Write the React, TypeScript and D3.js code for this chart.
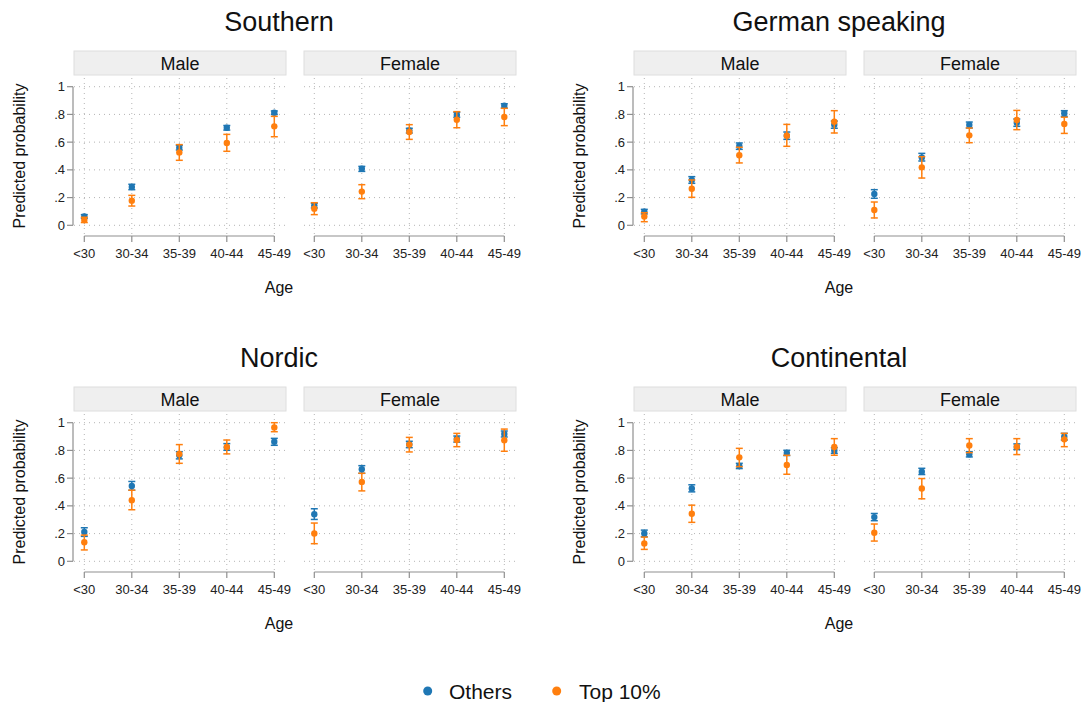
import React from "react";
import * as d3 from "d3";

// categories
const ages = ["<30", "30-34", "35-39", "40-44", "45-49"];
const sexes = ["Male", "Female"];
const regions = ["Southern", "German speaking", "Nordic", "Continental"];
const yTicks = [0, 0.2, 0.4, 0.6, 0.8, 1];
const yTickLabels = ["0", ".2", ".4", ".6", ".8", "1"];
const seriesNames = ["Others", "Top 10%"];

// [estimate, lower, upper] per age group
const southernMaleOthers = [[0.063, 0.05, 0.077], [0.276, 0.257, 0.296], [0.56, 0.543, 0.577], [0.704, 0.687, 0.72], [0.812, 0.8, 0.825]];
const southernMaleTop = [[0.038, 0.02, 0.058], [0.178, 0.139, 0.216], [0.526, 0.469, 0.582], [0.594, 0.534, 0.656], [0.714, 0.639, 0.786]];
const southernFemaleOthers = [[0.142, 0.125, 0.159], [0.409, 0.389, 0.425], [0.685, 0.666, 0.7], [0.796, 0.779, 0.815], [0.863, 0.846, 0.877]];
const southernFemaleTop = [[0.12, 0.077, 0.163], [0.243, 0.192, 0.293], [0.673, 0.62, 0.726], [0.762, 0.704, 0.82], [0.781, 0.719, 0.844]];

const germanMaleOthers = [[0.099, 0.082, 0.115], [0.327, 0.303, 0.351], [0.572, 0.548, 0.594], [0.647, 0.62, 0.673], [0.726, 0.7, 0.752]];
const germanMaleTop = [[0.063, 0.026, 0.091], [0.264, 0.202, 0.327], [0.505, 0.45, 0.563], [0.647, 0.57, 0.728], [0.748, 0.666, 0.827]];
const germanFemaleOthers = [[0.226, 0.195, 0.257], [0.49, 0.464, 0.519], [0.724, 0.702, 0.745], [0.74, 0.714, 0.767], [0.808, 0.786, 0.827]];
const germanFemaleTop = [[0.11, 0.053, 0.168], [0.418, 0.341, 0.495], [0.649, 0.596, 0.702], [0.76, 0.69, 0.829], [0.731, 0.663, 0.78]];

const nordicMaleOthers = [[0.211, 0.18, 0.242], [0.544, 0.513, 0.576], [0.765, 0.739, 0.791], [0.822, 0.801, 0.849], [0.863, 0.837, 0.887]];
const nordicMaleTop = [[0.137, 0.082, 0.189], [0.441, 0.372, 0.513], [0.775, 0.707, 0.842], [0.825, 0.775, 0.875], [0.966, 0.935, 1.0]];
const nordicFemaleOthers = [[0.34, 0.302, 0.379], [0.664, 0.635, 0.69], [0.844, 0.82, 0.866], [0.882, 0.86, 0.904], [0.918, 0.897, 0.94]];
const nordicFemaleTop = [[0.201, 0.127, 0.276], [0.573, 0.508, 0.635], [0.842, 0.789, 0.894], [0.875, 0.827, 0.923], [0.873, 0.794, 0.954]];

const continentalMaleOthers = [[0.201, 0.177, 0.225], [0.525, 0.501, 0.552], [0.688, 0.669, 0.707], [0.782, 0.763, 0.801], [0.799, 0.779, 0.82]];
const continentalMaleTop = [[0.129, 0.086, 0.175], [0.343, 0.281, 0.405], [0.75, 0.683, 0.815], [0.695, 0.628, 0.765], [0.825, 0.765, 0.885]];
const continentalFemaleOthers = [[0.319, 0.293, 0.345], [0.647, 0.626, 0.671], [0.772, 0.753, 0.791], [0.825, 0.806, 0.847], [0.899, 0.875, 0.923]];
const continentalFemaleTop = [[0.206, 0.146, 0.269], [0.525, 0.451, 0.597], [0.835, 0.784, 0.885], [0.827, 0.77, 0.885], [0.88, 0.827, 0.923]];

const panelData = [
  [[southernMaleOthers, southernMaleTop], [southernFemaleOthers, southernFemaleTop]],
  [[germanMaleOthers, germanMaleTop], [germanFemaleOthers, germanFemaleTop]],
  [[nordicMaleOthers, nordicMaleTop], [nordicFemaleOthers, nordicFemaleTop]],
  [[continentalMaleOthers, continentalMaleTop], [continentalFemaleOthers, continentalFemaleTop]],
];

const colors = ["#1f77b4", "#ff7f0e"];
const FONT = "'Liberation Sans', Arial, sans-serif";
const axisColor = "#8f8f8f";
const gridColor = "#b5b5b5";

const panelLefts = [74, 304];
const panelW = 212;

function Panel({ ox, oy, si, data }: any) {
  const left = ox + panelLefts[si];
  const x = d3.scalePoint().domain(ages).range([left + 10.3, left + 200.3]);
  const y = d3.scaleLinear().domain([0, 1]).range([oy + 225.3, oy + 86.7]);
  const axisY = oy + 236;
  return (
    <g>
      <rect x={left} y={oy + 51} width={panelW} height={24} fill="#efefef" stroke="#dedede" strokeWidth={1} />
      <text x={left + panelW / 2} y={oy + 69.5} textAnchor="middle" fontSize={18} fill="#111">
        {sexes[si]}
      </text>
      {yTicks.map((t) => (
        <line key={"h" + t} x1={left} x2={left + panelW} y1={y(t)} y2={y(t)} stroke={gridColor} strokeWidth={1} strokeDasharray="1,4" />
      ))}
      {ages.map((a) => (
        <line key={"v" + a} x1={x(a)} x2={x(a)} y1={oy + 78} y2={oy + 234} stroke={gridColor} strokeWidth={1} strokeDasharray="1,4" />
      ))}
      {si === 0 && (
        <g>
          <line x1={left - 1} x2={left - 1} y1={y(0)} y2={y(1)} stroke={axisColor} strokeWidth={1.2} />
          {yTicks.map((t, i) => (
            <g key={"yt" + t}>
              <line x1={left - 7} x2={left - 1} y1={y(t)} y2={y(t)} stroke={axisColor} strokeWidth={1.2} />
              <text x={left - 9} y={y(t)} dy="0.35em" textAnchor="end" fontSize={13} fill="#222">
                {yTickLabels[i]}
              </text>
            </g>
          ))}
        </g>
      )}
      <line x1={x(ages[0])} x2={x(ages[ages.length - 1])} y1={axisY} y2={axisY} stroke={axisColor} strokeWidth={1.2} />
      {ages.map((a) => (
        <g key={"xt" + a}>
          <line x1={x(a)} x2={x(a)} y1={axisY} y2={axisY + 6} stroke={axisColor} strokeWidth={1.2} />
          <text x={x(a)} y={axisY + 21.5} textAnchor="middle" fontSize={13} fill="#222">
            {a}
          </text>
        </g>
      ))}
      {data.map((series: number[][], k: number) => (
        <g key={"s" + k}>
          {series.map((d, i) => {
            const cx = x(ages[i]) as number;
            return (
              <g key={i}>
                <line x1={cx} x2={cx} y1={y(d[1])} y2={y(d[2])} stroke={colors[k]} strokeWidth={1.5} />
                <line x1={cx - 3.5} x2={cx + 3.5} y1={y(d[1])} y2={y(d[1])} stroke={colors[k]} strokeWidth={1.5} />
                <line x1={cx - 3.5} x2={cx + 3.5} y1={y(d[2])} y2={y(d[2])} stroke={colors[k]} strokeWidth={1.5} />
                <circle cx={cx} cy={y(d[0])} r={3.2} fill={colors[k]} />
              </g>
            );
          })}
        </g>
      ))}
    </g>
  );
}

export default function App() {
  return (
    <svg width={1084} height={702} style={{ position: "absolute", left: 0, top: 0, background: "#fff" }} fontFamily={FONT}>
      <rect x={0} y={0} width={1084} height={702} fill="#fff" />
      {regions.map((r, ri) => {
        const ox = (ri % 2) * 560;
        const oy = Math.floor(ri / 2) * 336;
        return (
          <g key={r}>
            <text x={ox + 279} y={oy + 31} textAnchor="middle" fontSize={27} fill="#111">
              {r}
            </text>
            <text transform={`translate(${ox + 25},${oy + 156}) rotate(-90)`} textAnchor="middle" fontSize={16} fill="#111">
              Predicted probability
            </text>
            <text x={ox + 279} y={oy + 292.5} textAnchor="middle" fontSize={16} fill="#111">
              Age
            </text>
            {sexes.map((s, si) => (
              <Panel key={s} ox={ox} oy={oy} si={si} data={panelData[ri][si]} />
            ))}
          </g>
        );
      })}
      <circle cx={427.7} cy={691} r={4.5} fill={colors[0]} />
      <text x={449} y={698.5} fontSize={21} fill="#111">
        {seriesNames[0]}
      </text>
      <circle cx={556.7} cy={691} r={4.5} fill={colors[1]} />
      <text x={579} y={698.5} fontSize={21} fill="#111">
        {seriesNames[1]}
      </text>
    </svg>
  );
}
